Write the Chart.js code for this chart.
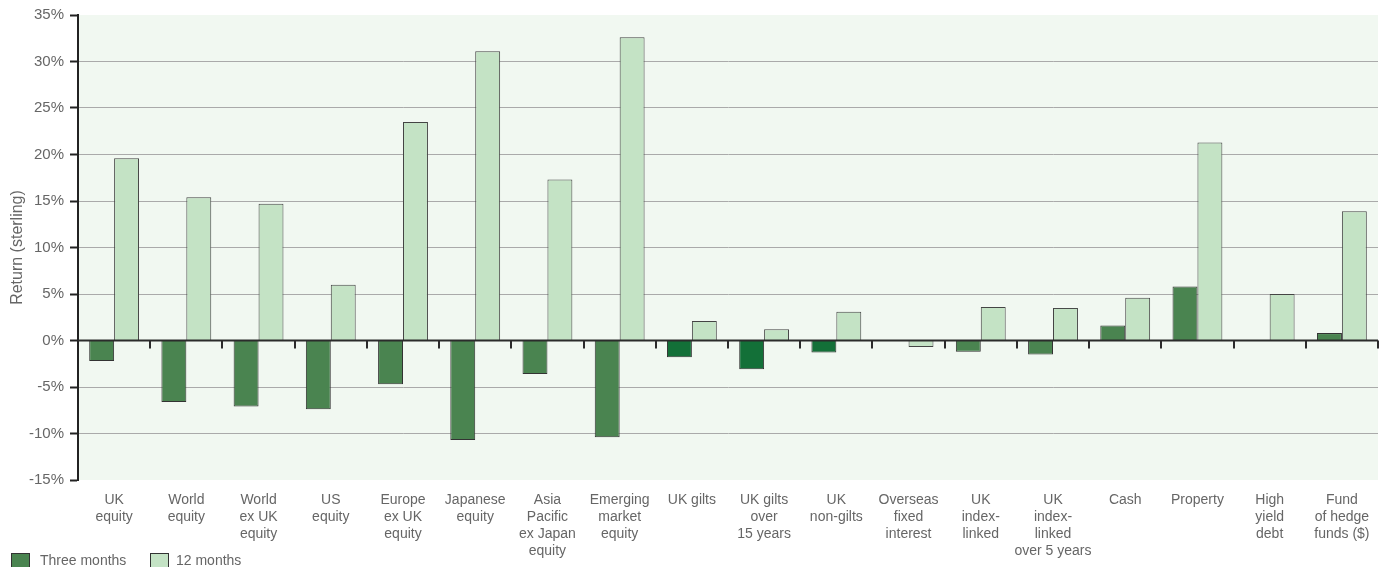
<!DOCTYPE html>
<html>
<head>
<meta charset="utf-8">
<script src="https://cdn.jsdelivr.net/npm/chart.js@4/dist/chart.umd.min.js"></script>
<style>
    body { margin: 0; background: #fff; font-family: "Liberation Sans", Arial, sans-serif; overflow: hidden; }
    #wrap { position: relative; width: 1386px; height: 567px; overflow: hidden; }
    .sw { position: absolute; top: 553px; width: 19px; height: 19px; box-sizing: border-box; border: 1px solid #333; }
    .lt { position: absolute; top: 552px; font-size: 14px; line-height: 16px; color: #666; }
</style>
</head>
<body>
<div id="wrap">
    <canvas id="chart"></canvas>
    <div class="sw" style="left:11px;background:#4a8450"></div>
    <div class="lt" style="left:40px">Three months</div>
    <div class="sw" style="left:150px;background:#c4e3c5"></div>
    <div class="lt" style="left:176px">12 months</div>
</div>
<script>
const categories = [
    ['UK', 'equity'],
    ['World', 'equity'],
    ['World', 'ex UK', 'equity'],
    ['US', 'equity'],
    ['Europe', 'ex UK', 'equity'],
    ['Japanese', 'equity'],
    ['Asia', 'Pacific', 'ex Japan', 'equity'],
    ['Emerging', 'market', 'equity'],
    ['UK gilts'],
    ['UK gilts', 'over', '15 years'],
    ['UK', 'non-gilts'],
    ['Overseas', 'fixed', 'interest'],
    ['UK', 'index-', 'linked'],
    ['UK', 'index-', 'linked', 'over 5 years'],
    ['Cash'],
    ['Property'],
    ['High', 'yield', 'debt'],
    ['Fund', 'of hedge', 'funds ($)']
];

const threeMonths = [-2.2, -6.6, -7.1, -7.4, -4.7, -10.7, -3.6, -10.4, -1.8, -3.1, -1.3, 0, -1.2, -1.5, 1.6, 5.8, 0, 0.8];
const twelveMonths = [19.6, 15.4, 14.7, 6.0, 23.5, 31.1, 17.3, 32.6, 2.1, 1.2, 3.1, -0.7, 3.6, 3.5, 4.6, 21.3, 5.0, 13.9];

const yTicks = [-15, -10, -5, 0, 5, 10, 15, 20, 25, 30, 35];

const giltCats = [8, 9, 10]; // these three are a darker green in the original

// plot background + zero line + little ticks under the zero line
const plotDecor = {
    id: 'plotDecor',
    beforeDraw(chart){
        const a = chart.chartArea;
        const c = chart.ctx;
        c.save();
        c.fillStyle = '#f1f8f1';
        c.fillRect(a.left, a.top, a.right - a.left, a.bottom - a.top);
        c.restore();
    },
    afterDatasetsDraw(chart){
        const a = chart.chartArea;
        const c = chart.ctx;
        const x = chart.scales.x;
        const y0 = chart.scales.y.getPixelForValue(0);
        const step = (a.right - a.left) / categories.length;
        c.save();
        c.strokeStyle = '#2b2b2b';
        c.lineWidth = 2;
        c.beginPath();
        c.moveTo(a.left, y0);
        c.lineTo(a.right, y0);
        for(let i = 0; i < categories.length; i++){
            const bx = Math.round(x.getPixelForValue(i) + step / 2);
            c.moveTo(bx, y0);
            c.lineTo(bx, y0 + 8);
        }
        c.stroke();
        c.restore();
    }
};

new Chart(document.getElementById('chart'), {
    type: 'bar',
    data: {
        labels: categories,
        datasets: [{
            label: 'Three months',
            data: threeMonths,
            backgroundColor: ctx => giltCats.includes(ctx.dataIndex) ? '#137038' : '#4a8450',
            borderColor: '#333',
            borderWidth: 1,
            categoryPercentage: 0.69,
            barPercentage: 1
        }, {
            label: '12 months',
            data: twelveMonths,
            backgroundColor: '#c4e3c5',
            borderColor: '#444',
            borderWidth: 1,
            categoryPercentage: 0.69,
            barPercentage: 1
        }]
    },
    options: {
        responsive: true,
        maintainAspectRatio: false,
        animation: false,
        layout: { padding: { top: 15, right: 8, left: 0, bottom: 0 } },
        plugins: {
            legend: { display: false },
            tooltip: { enabled: false }
        },
        scales: {
            x: {
                grid: { display: false, drawTicks: false },
                border: { display: false },
                ticks: {
                    autoSkip: false,
                    maxRotation: 0,
                    minRotation: 0,
                    padding: 12,
                    color: '#666',
                    font: { family: '"Liberation Sans", Arial, sans-serif', size: 14, lineHeight: 1.21 }
                },
                afterFit: s => { s.height = 87; }
            },
            y: {
                min: -15,
                max: 35,
                afterBuildTicks: s => { s.ticks = yTicks.map(v => ({ value: v })); },
                grid: {
                    color: ctx => (ctx.tick && (ctx.tick.value === 35 || ctx.tick.value === -15)) ? 'rgba(0,0,0,0)' : '#aaaaaa',
                    lineWidth: 1,
                    tickColor: '#222',
                    tickLength: 8,
                    tickWidth: 2
                },
                border: { display: true, color: '#222', width: 2 },
                ticks: {
                    padding: 6,
                    color: '#666',
                    font: { family: '"Liberation Sans", Arial, sans-serif', size: 15 },
                    callback: v => v + '%'
                },
                title: {
                    display: true,
                    text: 'Return (sterling)',
                    color: '#666',
                    padding: { top: 8, bottom: 0 },
                    font: { family: '"Liberation Sans", Arial, sans-serif', size: 16 }
                },
                afterFit: s => { s.width = 78; }
            }
        }
    },
    plugins: [plotDecor]
});
</script>
</body>
</html>
